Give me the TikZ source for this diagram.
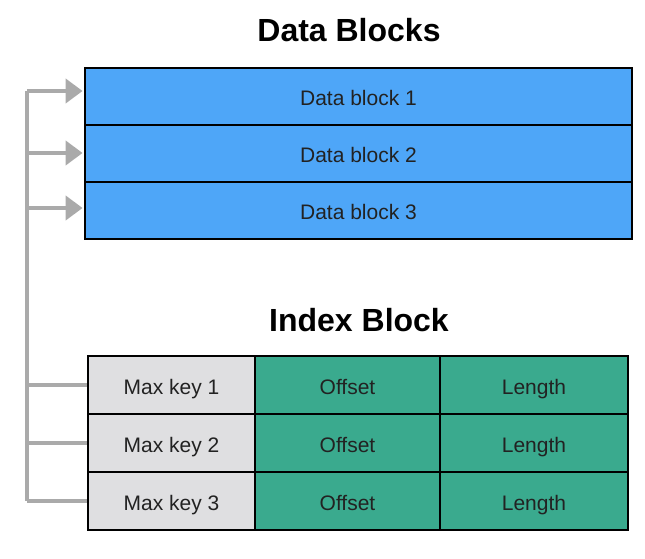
\documentclass[tikz,border=0pt]{standalone}
\usepackage{fontspec}
\setmainfont{Liberation Sans}
\usetikzlibrary{arrows.meta}
\definecolor{blk}{HTML}{4EA6F8}
\definecolor{grn}{HTML}{3AAA8E}
\definecolor{gcell}{HTML}{DFDFE1}
\definecolor{conn}{HTML}{AAAAAA}
\definecolor{txt}{HTML}{222222}
\tikzset{
  cell/.style={draw=black, line width=2.8pt, inner sep=0pt, text=txt, font=\fontsize{21}{24}\selectfont, text height=18pt, text depth=0pt},
  datacell/.style={cell, fill=blk, minimum width=547pt, minimum height=57pt},
  keycell/.style={cell, fill=gcell, minimum width=167pt, minimum height=58pt},
  offcell/.style={cell, fill=grn, minimum width=185pt, minimum height=58pt},
  lencell/.style={cell, fill=grn, minimum width=188pt, minimum height=58pt},
  title/.style={font=\fontsize{32}{36}\selectfont\bfseries, text=black},
  bus/.style={draw=conn, line width=4pt},
  arr/.style={bus, -{Triangle[length=17pt, width=24pt]}, shorten >=1pt},
}
\begin{document}
\begin{tikzpicture}[x=1pt, y=1pt]
\useasboundingbox (0,0) rectangle (645,558);
\node[title] (t1) at (349,528) {Data Blocks};
\node[title] (t2) at (359,238) {Index Block};
\node[datacell] (d1) at (358.5,461.5) {Data block 1};
\node[datacell] (d2) at (358.5,404.5) {Data block 2};
\node[datacell] (d3) at (358.5,347.5) {Data block 3};
\node[keycell] (k1) at (171.5,173) {Max key 1};
\node[keycell] (k2) at (171.5,115) {Max key 2};
\node[keycell] (k3) at (171.5,57) {Max key 3};
\node[offcell] (o1) at (347.5,173) {Offset};
\node[offcell] (o2) at (347.5,115) {Offset};
\node[offcell] (o3) at (347.5,57) {Offset};
\node[lencell] (l1) at (534,173) {Length};
\node[lencell] (l2) at (534,115) {Length};
\node[lencell] (l3) at (534,57) {Length};
\coordinate (bt) at (27,467);
\coordinate (bb) at (27,57);
\coordinate (b2) at (27,405);
\coordinate (b3) at (27,350);
\coordinate (c1) at (27,173);
\coordinate (c2) at (27,115);
\draw[bus] (bt) -- (bb);
\draw[arr] (bt) -- (bt -| d1.west);
\draw[arr] (b2) -- (b2 -| d2.west);
\draw[arr] (b3) -- (b3 -| d3.west);
\draw[bus] (c1) -- (k1.west);
\draw[bus] (c2) -- (k2.west);
\draw[bus] (bb) -- (k3.west);
\end{tikzpicture}
\end{document}
